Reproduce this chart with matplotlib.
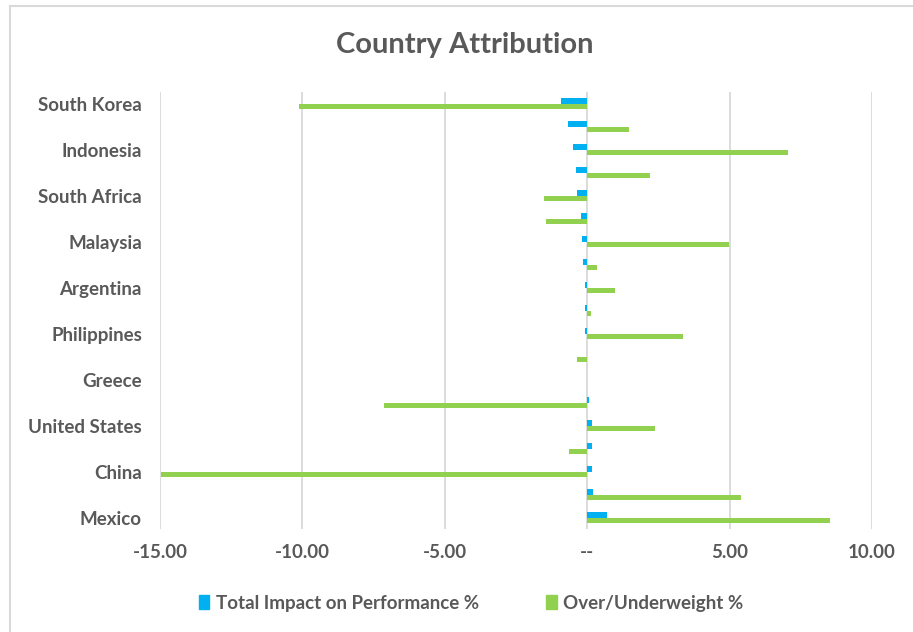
import matplotlib.pyplot as plt
from matplotlib.lines import Line2D
from matplotlib.patches import Patch
from matplotlib.ticker import FuncFormatter
import numpy as np

plt.rcParams['font.family'] = ['Lato', 'DejaVu Sans']

# rows from top to bottom; only every second row carries a label
labels = ["South Korea", "", "Indonesia", "", "South Africa", "", "Malaysia", "",
          "Argentina", "", "Philippines", "", "Greece", "", "United States", "",
          "China", "", "Mexico"]
impact = [-0.91, -0.67, -0.50, -0.38, -0.37, -0.21, -0.18, -0.13, -0.09, -0.07,
          -0.06, 0.0, 0.0, 0.08, 0.16, 0.16, 0.16, 0.21, 0.70]
weight = [-10.12, 1.46, 7.06, 2.19, -1.53, -1.46, 4.98, 0.36, 0.98, 0.12,
          3.37, -0.36, 0.0, -7.15, 2.39, -0.64, -14.97, 5.39, 8.51]
xticks = [-15, -10, -5, 0, 5, 10]

BLUE = "#00B0F0"
GREEN = "#92D050"
GREY = "#595959"
GRID = "#D9D9D9"

fig = plt.figure(figsize=(9.13, 6.32), dpi=100)
ax = fig.add_axes([160/913, 1 - 529/632, 712/913, 437/632])

y = np.arange(len(labels))
h = 0.26
ax.barh(y - h/2, impact, height=h, color=BLUE, zorder=3)
ax.barh(y + h/2, weight, height=h, color=GREEN, zorder=3)

ax.set_ylim(len(labels) - 0.5, -0.5)
ax.set_xlim(-15, 10)
ax.set_xticks(xticks)

def acct(v, pos=0):
    return "--" if v == 0 else "{:.2f}".format(v)

ax.xaxis.set_major_formatter(FuncFormatter(acct))
ax.set_yticks(y)
ax.set_yticklabels(labels)

for s in ax.spines.values():
    s.set_visible(False)
ax.grid(axis="x", color=GRID, linewidth=1.3, zorder=0)
ax.tick_params(axis="both", length=0, colors=GREY, labelsize=13.5)
ax.tick_params(axis="y", pad=13)
ax.tick_params(axis="x", pad=11)
for t in ax.get_xticklabels() + ax.get_yticklabels():
    t.set_fontweight("bold")

fig.text(465/913, 1 - 45/632, "Country Attribution", ha="center", va="center",
         fontsize=21, fontweight="bold", color=GREY)

handles = [Patch(color=BLUE, label="Total Impact on Performance %"),
           Patch(color=GREEN, label="Over/Underweight %")]
leg = fig.legend(handles=handles, loc="center", ncol=2, frameon=False,
                 bbox_to_anchor=(471/913, 1 - 603/632), handlelength=0.55,
                 handleheight=0.75, handletextpad=0.35, columnspacing=3.6,
                 prop={"size": 13.5, "weight": "bold"})
for t in leg.get_texts():
    t.set_color(GREY)

# chart-area frame, left and top edges
fig.add_artist(Line2D([10/913, 10/913], [0, 1 - 6/632], color=GRID, linewidth=1.5))
fig.add_artist(Line2D([10/913, 1], [1 - 6/632, 1 - 6/632], color=GRID, linewidth=1.5))

fig.savefig("out.png", dpi=100)
